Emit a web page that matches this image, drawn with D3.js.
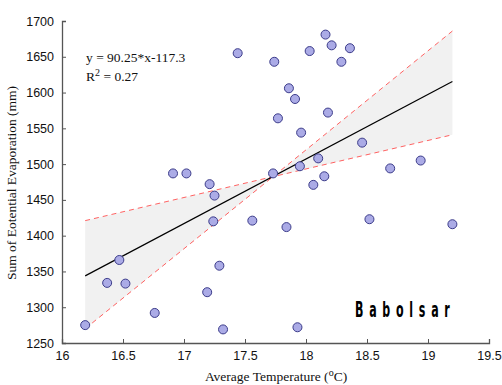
<!DOCTYPE html>
<html><head><meta charset="utf-8">
<script src="https://cdn.jsdelivr.net/npm/d3@7"></script>
<style>body{margin:0;background:#fff}svg{display:block}</style>
</head><body>
<svg id="c" width="502" height="385"></svg>
<script>
const tempX = [16.19,16.37,16.47,16.52,16.76,16.91,17.02,17.19,17.21,17.24,17.25,17.29,17.32,17.44,17.56,17.73,17.74,17.77,17.84,17.86,17.91,17.93,17.95,17.96,18.03,18.06,18.10,18.15,18.16,18.18,18.21,18.29,18.36,18.46,18.52,18.69,18.94,19.20];
const evapY = [1275,1334,1366,1333,1292,1487,1487,1321,1472,1420,1456,1358,1269,1655,1421,1487,1643,1564,1412,1606,1591,1272,1497,1544,1658,1471,1508,1483,1681,1572,1666,1643,1662,1530,1423,1494,1505,1416];
const fitSlope = 90.25, fitIntercept = -117.3;
const bandX = [16.19, 17.73, 19.2];
const bandA = [1421, 1482.5, 1541];
const bandB = [1270, 1482.5, 1686];
const xTicks = [16,16.5,17,17.5,18,18.5,19,19.5];
const yTicks = [1250,1300,1350,1400,1450,1500,1550,1600,1650,1700];

const svg = d3.select("#c");
const x = d3.scaleLinear().domain([16,19.5]).range([62,489]);
const y = d3.scaleLinear().domain([1250,1700]).range([343,21]);

// band
const area = d3.area().x((d,i)=>x(bandX[i])).y0((d,i)=>y(bandA[i])).y1((d,i)=>y(bandB[i]));
svg.append("path").attr("d", area(bandX)).attr("fill","#f1f1f1").attr("stroke","none");
const lineA = d3.line().x((d,i)=>x(bandX[i])).y((d,i)=>y(d));
svg.append("path").attr("d", lineA(bandA)).attr("fill","none").attr("stroke","#ff5050").attr("stroke-width",0.9).attr("stroke-dasharray","5,4");
svg.append("path").attr("d", lineA(bandB)).attr("fill","none").attr("stroke","#ff5050").attr("stroke-width",0.9).attr("stroke-dasharray","5,4");

// fit line
const xmin = d3.min(tempX), xmax = d3.max(tempX);
svg.append("line").attr("x1",x(xmin)).attr("y1",y(fitSlope*xmin+fitIntercept))
  .attr("x2",x(xmax)).attr("y2",y(fitSlope*xmax+fitIntercept)).attr("stroke","#000").attr("stroke-width",1.2);

// points
svg.selectAll("circle.p").data(tempX).enter().append("circle").attr("class","p")
  .attr("cx",d=>x(d)).attr("cy",(d,i)=>y(evapY[i])).attr("r",4.5)
  .attr("fill","#ababe6").attr("stroke","#3c3c8a").attr("stroke-width",1);

// axes
const fx = d3.axisBottom(x).tickValues(xTicks).tickSize(-4).tickPadding(8).tickFormat(d=>d);
const gx = svg.append("g").attr("transform","translate(0,343)").call(fx);
const fy = d3.axisLeft(y).tickValues(yTicks).tickSize(-4).tickPadding(8).tickFormat(d=>d);
const gy = svg.append("g").attr("transform","translate(62,0)").call(fy);
[gx,gy].forEach(g=>{
  g.select(".domain").attr("stroke","#555").attr("stroke-width",1.3);
  g.selectAll(".tick line").attr("stroke","#555");
  g.selectAll(".tick text").attr("font-family","'Liberation Sans',Arial,sans-serif").attr("font-size",12.5).attr("fill","#111");
});

// annotation
const ann = svg.append("text").attr("x",86).attr("y",62).attr("font-family","'Liberation Serif','Times New Roman',serif").attr("font-size",13.5).attr("fill","#111");
ann.text("y = 90.25*x-117.3");
const r2 = svg.append("text").attr("x",86).attr("y",81).attr("font-family","'Liberation Serif','Times New Roman',serif").attr("font-size",13.5).attr("fill","#111");
r2.append("tspan").text("R");
r2.append("tspan").attr("dy",-5).attr("font-size",10).text("2");
r2.append("tspan").attr("dy",5).text(" = 0.27");

// labels
const xl = svg.append("text").attr("x",276).attr("y",381).attr("text-anchor","middle")
  .attr("font-family","'Liberation Serif','Times New Roman',serif").attr("font-size",13.5).attr("fill","#111");
xl.append("tspan").text("Average Temperature (");
xl.append("tspan").attr("dy",-5).attr("font-size",10).text("o");
xl.append("tspan").attr("dy",5).text("C)");
svg.append("text").attr("transform","translate(16,183) rotate(-90)").attr("text-anchor","middle")
  .attr("font-family","'Liberation Serif','Times New Roman',serif").attr("font-size",13.5).attr("fill","#111")
  .text("Sum of Eotential Evaporation (mm)");

svg.append("text").attr("transform","translate(355,317) scale(0.6,1)").attr("x",0).attr("y",0)
  .attr("font-family","'DejaVu Sans Condensed','DejaVu Sans',sans-serif").attr("font-weight","bold")
  .attr("font-size",20.5).attr("textLength",158).attr("lengthAdjust","spacing").attr("fill","#000").text("Babolsar");
</script>
</body></html>
